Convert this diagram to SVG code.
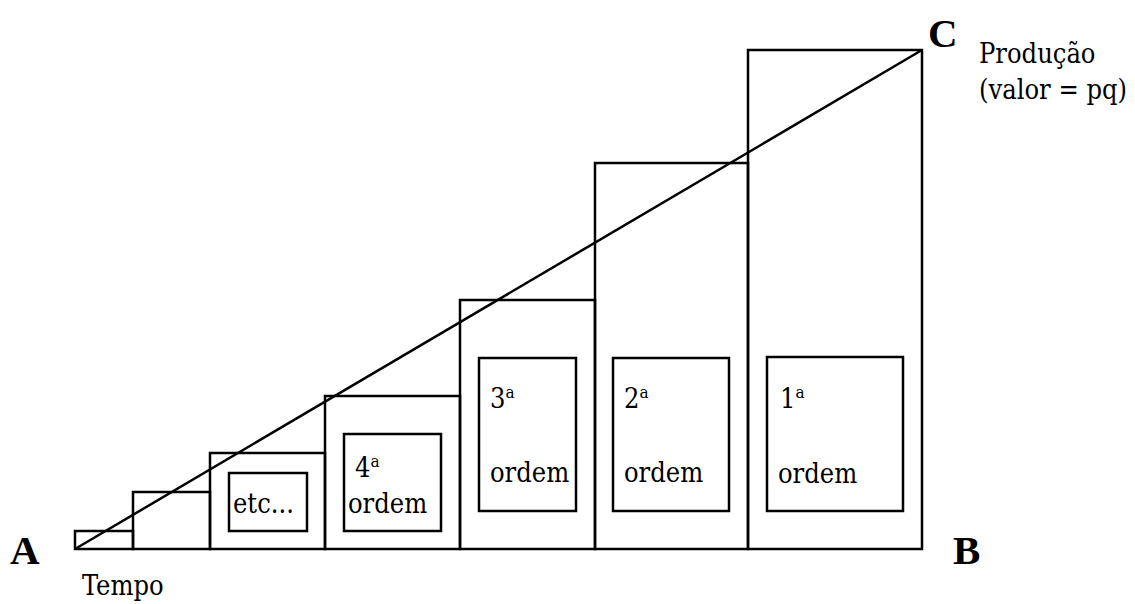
<svg xmlns="http://www.w3.org/2000/svg" width="1135" height="604" viewBox="0 0 1135 604">
<style>
.box{fill:none;stroke:#000;stroke-width:2.5}
.t{font-family:'DejaVu Serif Condensed','DejaVu Serif',serif;font-stretch:condensed;font-size:27px;fill:#000}
.big{font-family:'Liberation Serif',serif;font-size:41px;font-weight:bold;fill:#000}
.sup{font-size:17px}
</style>
<rect width="1135" height="604" fill="#fff"/>
<g id="step1"><rect class="box" x="75" y="531" width="58" height="18"/></g>
<g id="step2"><rect class="box" x="133" y="492" width="77" height="57"/></g>
<g id="step3"><rect class="box" x="210" y="453" width="115" height="96"/>
<g id="etc"><rect class="box" x="229" y="473" width="78" height="58"/><text class="t" x="233" y="513">etc...</text></g></g>
<g id="step4"><rect class="box" x="325" y="396" width="135" height="153"/>
<g id="ordem4"><rect class="box" x="344" y="434" width="97" height="97"/><text class="t" x="355" y="477">4<tspan class="sup" dy="-10">a</tspan></text><text class="t" x="348" y="513">ordem</text></g></g>
<g id="step5"><rect class="box" x="460" y="300" width="135" height="249"/>
<g id="ordem3"><rect class="box" x="479" y="358" width="97" height="153"/><text class="t" x="490" y="408">3<tspan class="sup" dy="-10">a</tspan></text><text class="t" x="490" y="482">ordem</text></g></g>
<g id="step6"><rect class="box" x="595" y="163" width="153" height="386"/>
<g id="ordem2"><rect class="box" x="613" y="358" width="116" height="153"/><text class="t" x="624" y="408">2<tspan class="sup" dy="-10">a</tspan></text><text class="t" x="624" y="482">ordem</text></g></g>
<g id="step7"><rect class="box" x="748" y="50" width="174" height="499"/>
<g id="ordem1"><rect class="box" x="767" y="357" width="136" height="154"/><text class="t" x="780" y="408">1<tspan class="sup" dy="-10">a</tspan></text><text class="t" x="778" y="483">ordem</text></g></g>
<g id="connectors"><line x1="75" y1="549" x2="922" y2="50" stroke="#000" stroke-width="2.5"/></g>
<g id="labels">
<text class="big" x="10" y="564">A</text>
<text class="big" x="953" y="564">B</text>
<text class="big" x="928" y="47">C</text>
<text class="t" x="82" y="595">Tempo</text>
<text class="t" x="979" y="63">Produção</text>
<text class="t" x="979" y="99">(valor = pq)</text>
</g>
</svg>
